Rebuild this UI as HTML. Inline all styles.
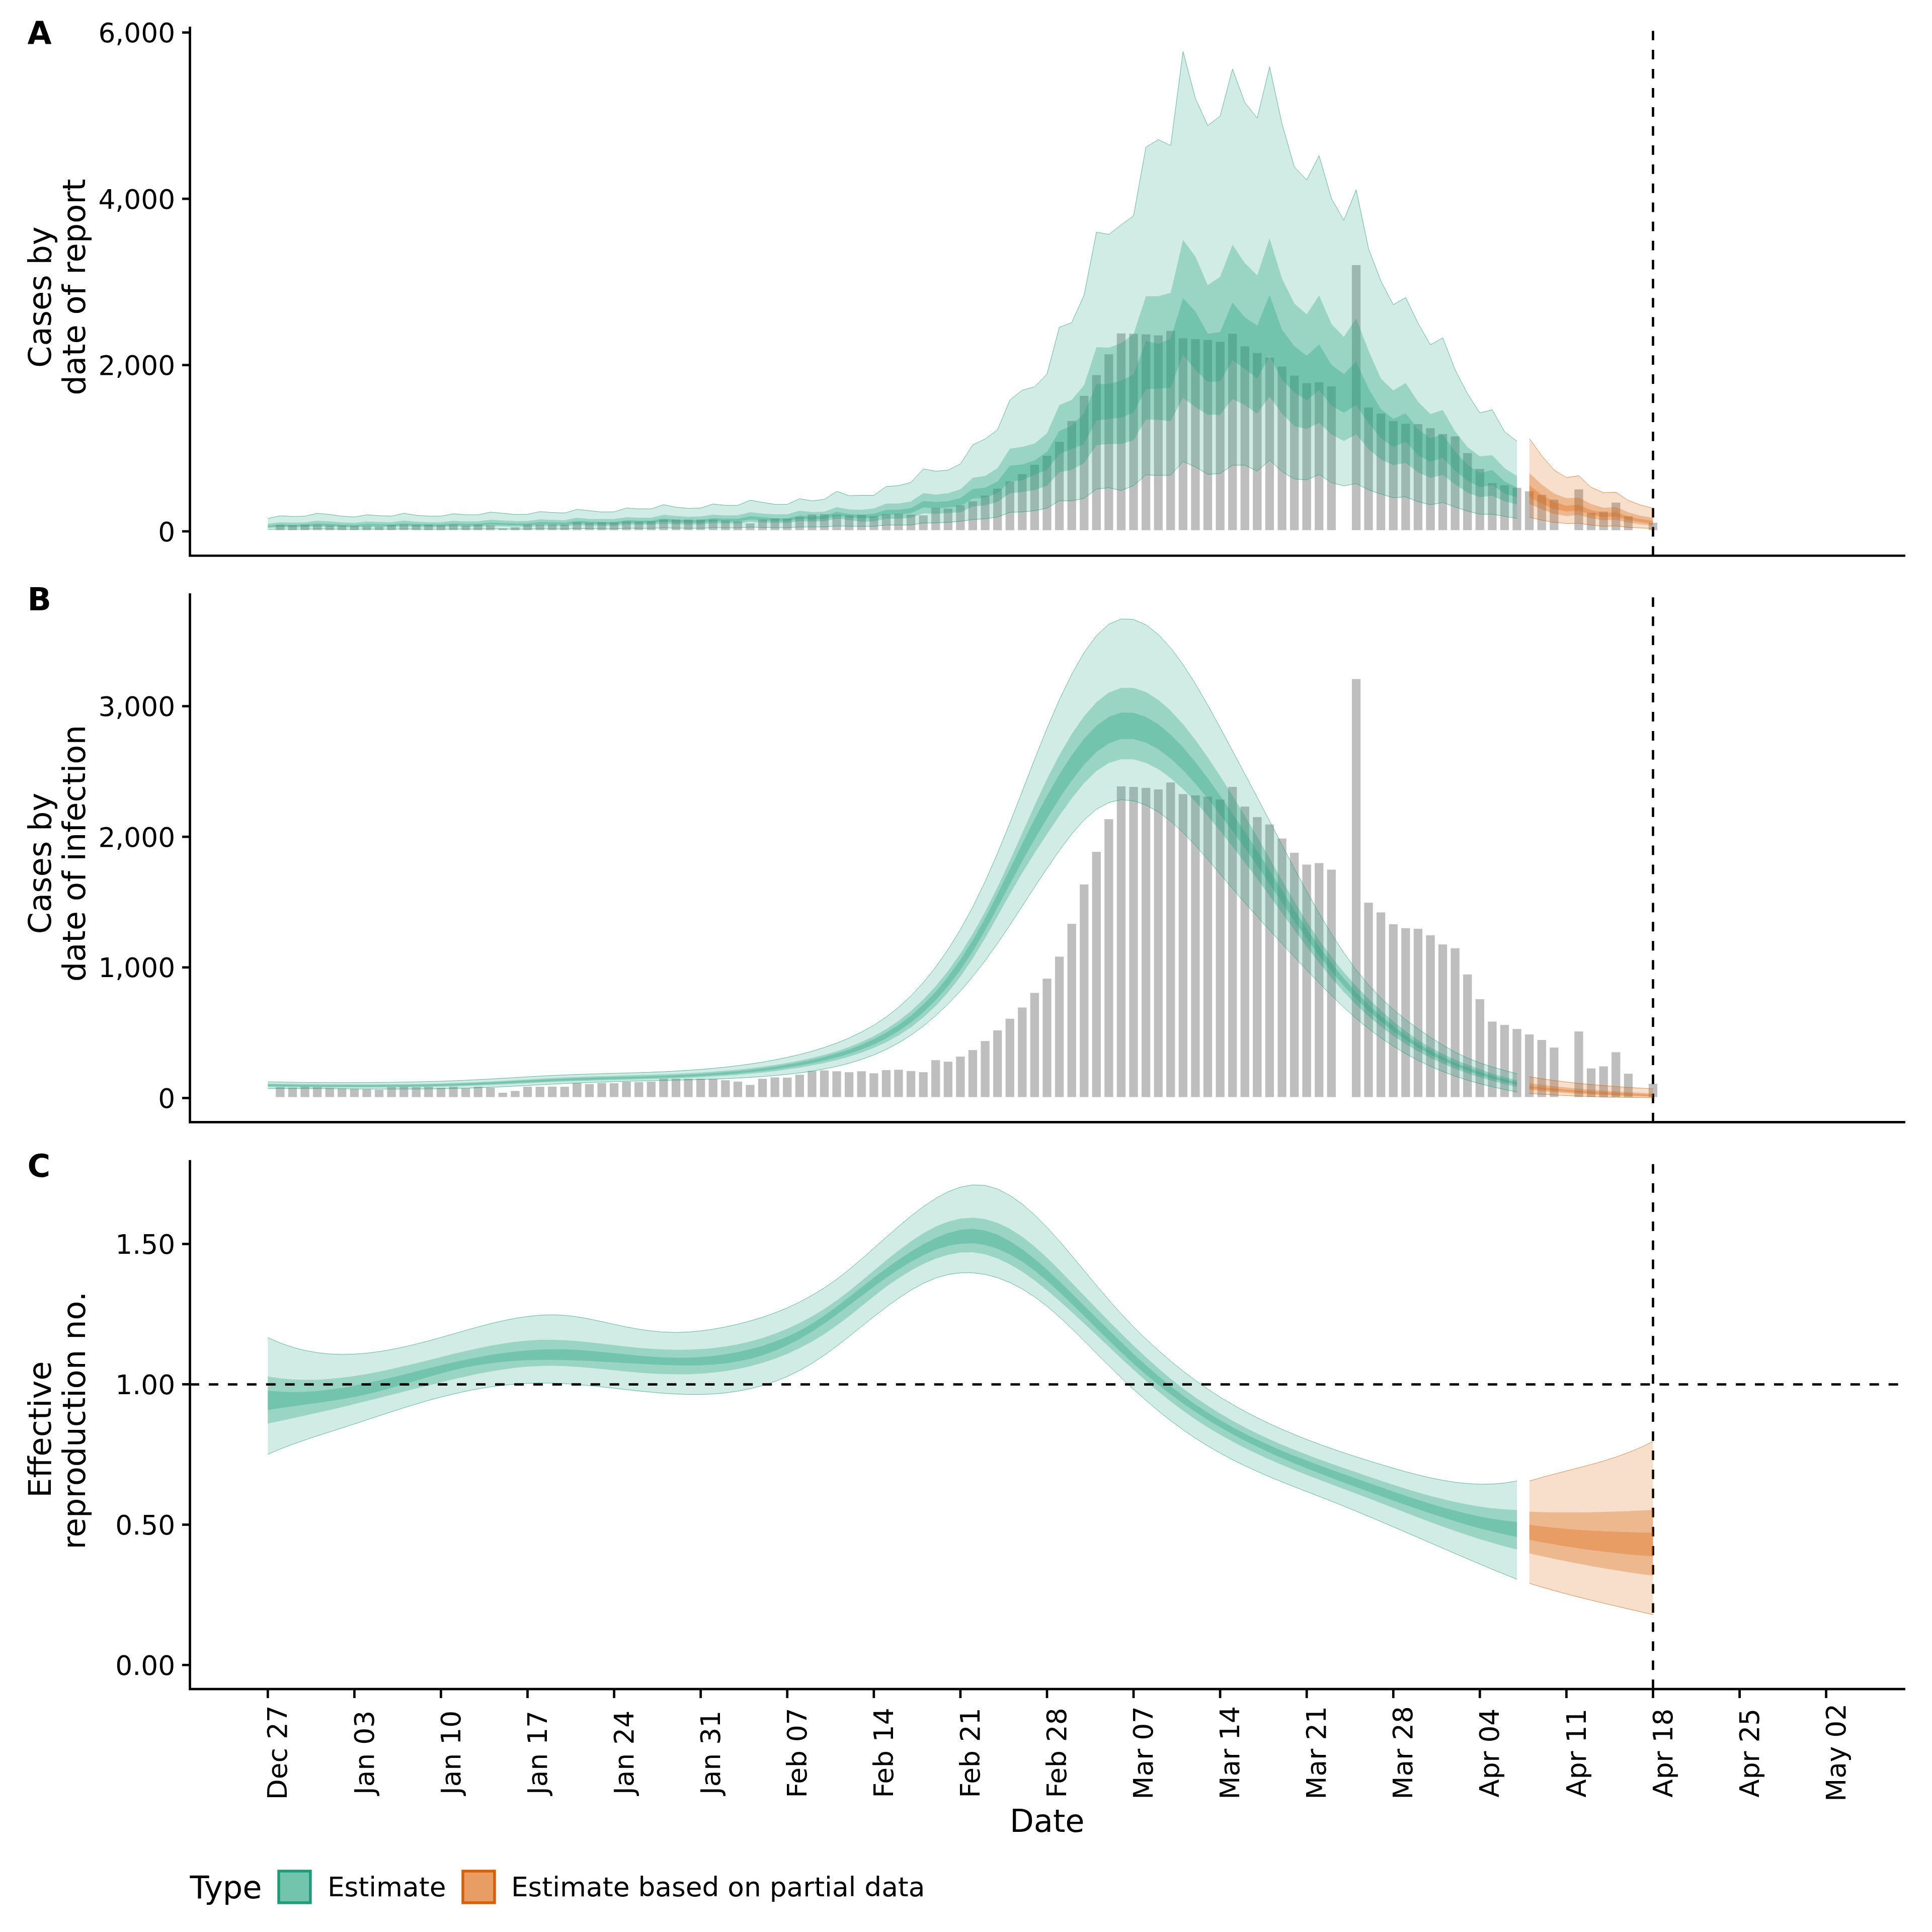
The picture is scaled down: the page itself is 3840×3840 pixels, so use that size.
<!DOCTYPE html>
<html lang="en"><head><meta charset="utf-8"><title>Estimates</title>
<style>html,body{margin:0;padding:0;background:#fff}svg{display:block}</style></head>
<body>
<svg width="3840" height="3840" viewBox="0 0 3840 3840" font-family="'DejaVu Sans', 'Liberation Sans', sans-serif" fill="#000">
<rect width="3840" height="3840" fill="#fff"/>
<defs>
<clipPath id="clipA"><rect x="377.5" y="53" width="3409.5" height="1051.5"/></clipPath>
<clipPath id="clipB"><rect x="377.5" y="1179.2" width="3409.5" height="1051.1"/></clipPath>
<clipPath id="clipC"><rect x="377.5" y="2305.6" width="3409.5" height="1051.6"/></clipPath>
</defs>
<g clip-path="url(#clipA)">
<g fill="#BEBEBE"><rect x="548.2" y="1043.1" width="17.3" height="10.6"/><rect x="572.8" y="1043.8" width="17.3" height="10"/><rect x="597.4" y="1042.7" width="17.3" height="11"/><rect x="622" y="1043.1" width="17.3" height="10.6"/><rect x="646.6" y="1044.2" width="17.3" height="9.6"/><rect x="671.1" y="1044.8" width="17.3" height="8.9"/><rect x="695.7" y="1045.2" width="17.3" height="8.5"/><rect x="720.3" y="1045.7" width="17.3" height="8.1"/><rect x="744.9" y="1046.5" width="17.3" height="7.2"/><rect x="769.5" y="1043.1" width="17.3" height="10.6"/><rect x="794.1" y="1042.7" width="17.3" height="11"/><rect x="818.6" y="1043.1" width="17.3" height="10.6"/><rect x="843.2" y="1042.7" width="17.3" height="11"/><rect x="867.8" y="1044" width="17.3" height="9.8"/><rect x="892.4" y="1042.7" width="17.3" height="11"/><rect x="917" y="1044.6" width="17.3" height="9.1"/><rect x="941.5" y="1042.7" width="17.3" height="11"/><rect x="966.1" y="1044" width="17.3" height="9.8"/><rect x="990.7" y="1050.3" width="17.3" height="3.4"/><rect x="1015.3" y="1048" width="17.3" height="5.8"/><rect x="1039.9" y="1042.7" width="17.3" height="11"/><rect x="1064.5" y="1042.7" width="17.3" height="11"/><rect x="1089" y="1042.5" width="17.3" height="11.2"/><rect x="1113.6" y="1042.7" width="17.3" height="11"/><rect x="1138.2" y="1037.9" width="17.3" height="15.9"/><rect x="1162.8" y="1039.3" width="17.3" height="14.4"/><rect x="1187.4" y="1037.9" width="17.3" height="15.9"/><rect x="1211.9" y="1038.3" width="17.3" height="15.5"/><rect x="1236.5" y="1036.4" width="17.3" height="17.4"/><rect x="1261.1" y="1036.8" width="17.3" height="16.9"/><rect x="1285.7" y="1036.2" width="17.3" height="17.6"/><rect x="1310.3" y="1032.6" width="17.3" height="21.1"/><rect x="1334.9" y="1032.6" width="17.3" height="21.1"/><rect x="1359.4" y="1032.6" width="17.3" height="21.1"/><rect x="1384" y="1032.6" width="17.3" height="21.1"/><rect x="1408.6" y="1032.6" width="17.3" height="21.1"/><rect x="1433.2" y="1034.5" width="17.3" height="19.3"/><rect x="1457.8" y="1036.2" width="17.3" height="17.6"/><rect x="1482.3" y="1040.4" width="17.3" height="13.3"/><rect x="1506.9" y="1032.6" width="17.3" height="21.1"/><rect x="1531.5" y="1030.9" width="17.3" height="22.8"/><rect x="1556.1" y="1031.1" width="17.3" height="22.6"/><rect x="1580.7" y="1027.5" width="17.3" height="26.2"/><rect x="1605.3" y="1022.7" width="17.3" height="31.1"/><rect x="1629.8" y="1022" width="17.3" height="31.7"/><rect x="1654.4" y="1023.1" width="17.3" height="30.6"/><rect x="1679" y="1024.4" width="17.3" height="29.4"/><rect x="1703.6" y="1023.1" width="17.3" height="30.6"/><rect x="1728.2" y="1025.7" width="17.3" height="28"/><rect x="1752.8" y="1021.7" width="17.3" height="32.1"/><rect x="1777.3" y="1021.2" width="17.3" height="32.5"/><rect x="1801.9" y="1022.9" width="17.3" height="30.9"/><rect x="1826.5" y="1024.3" width="17.3" height="29.5"/><rect x="1851.1" y="1009.1" width="17.3" height="44.6"/><rect x="1875.7" y="1011" width="17.3" height="42.7"/><rect x="1900.2" y="1004.6" width="17.3" height="49.1"/><rect x="1924.8" y="996.3" width="17.3" height="57.5"/><rect x="1949.4" y="984.9" width="17.3" height="68.8"/><rect x="1974" y="971.4" width="17.3" height="82.4"/><rect x="1998.6" y="956.7" width="17.3" height="97.1"/><rect x="2023.2" y="942.4" width="17.3" height="111.3"/><rect x="2047.7" y="923.9" width="17.3" height="129.8"/><rect x="2072.3" y="905.9" width="17.3" height="147.9"/><rect x="2096.9" y="878.1" width="17.3" height="175.6"/><rect x="2121.5" y="836.6" width="17.3" height="217.1"/><rect x="2146.1" y="786.8" width="17.3" height="267"/><rect x="2170.6" y="745.5" width="17.3" height="308.2"/><rect x="2195.2" y="704.2" width="17.3" height="349.5"/><rect x="2219.8" y="662.7" width="17.3" height="391.1"/><rect x="2244.4" y="663.4" width="17.3" height="390.3"/><rect x="2269" y="664.6" width="17.3" height="389.2"/><rect x="2293.6" y="666.5" width="17.3" height="387.3"/><rect x="2318.1" y="657.7" width="17.3" height="396"/><rect x="2342.7" y="672.4" width="17.3" height="381.3"/><rect x="2367.3" y="674.1" width="17.3" height="379.7"/><rect x="2391.9" y="675.7" width="17.3" height="378"/><rect x="2416.5" y="679.3" width="17.3" height="374.4"/><rect x="2441" y="663.4" width="17.3" height="390.3"/><rect x="2465.6" y="688.3" width="17.3" height="365.4"/><rect x="2490.2" y="701.6" width="17.3" height="352.1"/><rect x="2514.8" y="710.8" width="17.3" height="342.9"/><rect x="2539.4" y="728.6" width="17.3" height="325.1"/><rect x="2564" y="746.7" width="17.3" height="307.1"/><rect x="2588.5" y="761.6" width="17.3" height="292.1"/><rect x="2613.1" y="759.7" width="17.3" height="294"/><rect x="2637.7" y="768" width="17.3" height="285.7"/><rect x="2686.9" y="526.9" width="17.3" height="526.8"/><rect x="2711.4" y="809.8" width="17.3" height="243.9"/><rect x="2736" y="822.1" width="17.3" height="231.6"/><rect x="2760.6" y="837.1" width="17.3" height="216.7"/><rect x="2785.2" y="842.1" width="17.3" height="211.7"/><rect x="2809.8" y="842.8" width="17.3" height="211"/><rect x="2834.4" y="851.1" width="17.3" height="202.7"/><rect x="2858.9" y="862.7" width="17.3" height="191"/><rect x="2883.5" y="867.4" width="17.3" height="186.3"/><rect x="2908.1" y="900.6" width="17.3" height="153.1"/><rect x="2932.7" y="931.9" width="17.3" height="121.8"/><rect x="2957.3" y="960.2" width="17.3" height="93.5"/><rect x="2981.8" y="964.5" width="17.3" height="89.2"/><rect x="3006.4" y="969.6" width="17.3" height="84.2"/><rect x="3031" y="976.5" width="17.3" height="77.2"/><rect x="3055.6" y="983.5" width="17.3" height="70.3"/><rect x="3080.2" y="993.1" width="17.3" height="60.6"/><rect x="3129.3" y="972.7" width="17.3" height="81"/><rect x="3153.9" y="1019.5" width="17.3" height="34.2"/><rect x="3178.5" y="1016.8" width="17.3" height="36.9"/><rect x="3203.1" y="999" width="17.3" height="54.8"/><rect x="3227.7" y="1026.2" width="17.3" height="27.6"/><rect x="3276.8" y="1039" width="17.3" height="14.7"/></g>
<line x1="3285.5" y1="1104.5" x2="3285.5" y2="53" stroke="#000" stroke-width="4.74" stroke-dasharray="18.97 18.97"/>
<polygon points="532.3,1030.5 556.9,1025.2 581.5,1026.5 606,1025.9 630.6,1020.2 655.2,1022.6 679.8,1025.9 704.4,1027.5 729,1023.2 753.5,1024.9 778.1,1025.9 802.7,1020.2 827.3,1024.2 851.9,1025.9 876.4,1025.9 901,1021.2 925.6,1023.2 950.2,1023.2 974.8,1017.9 999.4,1020.2 1023.9,1022.6 1048.5,1022.2 1073.1,1016.9 1097.7,1018.6 1122.3,1019.7 1146.8,1012.4 1171.4,1015 1196,1017.7 1220.6,1017.3 1245.2,1009.7 1269.8,1011.4 1294.3,1011.4 1318.9,1003.1 1343.5,1008.1 1368.1,1010.4 1392.7,1009.7 1417.3,1001.8 1441.8,1004.4 1466.4,1004.4 1491,994.2 1515.6,998.5 1540.2,1002.4 1564.7,1002.4 1589.3,991.2 1613.9,995.5 1638.5,992.5 1663.1,976.6 1687.7,985.2 1712.2,984.5 1736.8,984.5 1761.4,967 1786,965.3 1810.6,958.7 1835.1,932.2 1859.7,936.5 1884.3,934.5 1908.9,922.2 1933.5,884.1 1958.1,872.5 1982.6,854.3 2007.2,795.4 2031.8,775.5 2056.4,768.9 2081,743.4 2105.5,650.6 2130.1,641.3 2154.7,586.7 2179.3,461.6 2203.9,465.9 2228.5,447 2253,428.8 2277.6,292.7 2302.2,277.4 2326.8,289.4 2351.4,102.5 2375.9,195.3 2400.5,249.6 2425.1,230.7 2449.7,137.3 2474.3,204.2 2498.9,234.7 2523.4,133 2548,245.6 2572.6,331.8 2597.2,357.6 2621.8,309.6 2646.4,394.8 2670.9,437.8 2695.5,377.2 2720.1,494.2 2744.7,558.8 2769.3,605.8 2793.8,591.6 2818.4,642.2 2843,685.3 2867.6,671.4 2892.2,735 2916.8,782.6 2941.3,820.7 2965.9,814.4 2990.5,858.2 3015.1,877.1 3015.1,1030.2 2990.5,1026.3 2965.9,1022.1 2941.3,1022.1 2916.8,1015.8 2892.2,1007.7 2867.6,998.7 2843,1003.2 2818.4,997.2 2793.8,987.3 2769.3,989.4 2744.7,981.9 2720.1,973.6 2695.5,961.3 2670.9,965.6 2646.4,959.3 2621.8,943.1 2597.2,953.7 2572.6,952 2548,937.1 2523.4,914.6 2498.9,936.5 2474.3,924.6 2449.7,924.6 2425.1,941.1 2400.5,942.8 2375.9,927.9 2351.4,917.3 2326.8,944.4 2302.2,944.8 2277.6,943.8 2253,965.3 2228.5,974.9 2203.9,969.3 2179.3,972.3 2154.7,990.5 2130.1,995.4 2105.5,995.4 2081,1010 2056.4,1015 2031.8,1017.5 2007.2,1018.3 1982.6,1027.7 1958.1,1031.1 1933.5,1032.7 1908.9,1036 1884.3,1038.2 1859.7,1039.4 1835.1,1039.4 1810.6,1043.5 1786,1043.5 1761.4,1043.5 1736.8,1046 1712.2,1046.3 1687.7,1046 1663.1,1045.2 1638.5,1047.3 1613.9,1047.3 1589.3,1047.4 1564.7,1048.9 1540.2,1048.9 1515.6,1048.4 1491,1047.8 1466.4,1049.2 1441.8,1049.2 1417.3,1048.9 1392.7,1050 1368.1,1050.1 1343.5,1049.8 1318.9,1049.1 1294.3,1050.2 1269.8,1050.2 1245.2,1050 1220.6,1051 1196,1051.1 1171.4,1050.7 1146.8,1050.4 1122.3,1051.4 1097.7,1051.2 1073.1,1051 1048.5,1051.6 1023.9,1051.7 999.4,1051.3 974.8,1051 950.2,1051.7 925.6,1051.7 901,1051.4 876.4,1052 851.9,1052 827.3,1051.7 802.7,1051.2 778.1,1051.9 753.5,1051.8 729,1051.5 704.4,1052.1 679.8,1051.9 655.2,1051.4 630.6,1051.1 606,1051.8 581.5,1051.9 556.9,1051.7 532.3,1052.4" fill="#1B9E77" fill-opacity="0.2"/><polyline points="532.3,1030.5 556.9,1025.2 581.5,1026.5 606,1025.9 630.6,1020.2 655.2,1022.6 679.8,1025.9 704.4,1027.5 729,1023.2 753.5,1024.9 778.1,1025.9 802.7,1020.2 827.3,1024.2 851.9,1025.9 876.4,1025.9 901,1021.2 925.6,1023.2 950.2,1023.2 974.8,1017.9 999.4,1020.2 1023.9,1022.6 1048.5,1022.2 1073.1,1016.9 1097.7,1018.6 1122.3,1019.7 1146.8,1012.4 1171.4,1015 1196,1017.7 1220.6,1017.3 1245.2,1009.7 1269.8,1011.4 1294.3,1011.4 1318.9,1003.1 1343.5,1008.1 1368.1,1010.4 1392.7,1009.7 1417.3,1001.8 1441.8,1004.4 1466.4,1004.4 1491,994.2 1515.6,998.5 1540.2,1002.4 1564.7,1002.4 1589.3,991.2 1613.9,995.5 1638.5,992.5 1663.1,976.6 1687.7,985.2 1712.2,984.5 1736.8,984.5 1761.4,967 1786,965.3 1810.6,958.7 1835.1,932.2 1859.7,936.5 1884.3,934.5 1908.9,922.2 1933.5,884.1 1958.1,872.5 1982.6,854.3 2007.2,795.4 2031.8,775.5 2056.4,768.9 2081,743.4 2105.5,650.6 2130.1,641.3 2154.7,586.7 2179.3,461.6 2203.9,465.9 2228.5,447 2253,428.8 2277.6,292.7 2302.2,277.4 2326.8,289.4 2351.4,102.5 2375.9,195.3 2400.5,249.6 2425.1,230.7 2449.7,137.3 2474.3,204.2 2498.9,234.7 2523.4,133 2548,245.6 2572.6,331.8 2597.2,357.6 2621.8,309.6 2646.4,394.8 2670.9,437.8 2695.5,377.2 2720.1,494.2 2744.7,558.8 2769.3,605.8 2793.8,591.6 2818.4,642.2 2843,685.3 2867.6,671.4 2892.2,735 2916.8,782.6 2941.3,820.7 2965.9,814.4 2990.5,858.2 3015.1,877.1" fill="none" stroke="#1B9E77" stroke-width="0.7" stroke-linejoin="round"/><polyline points="532.3,1052.4 556.9,1051.7 581.5,1051.9 606,1051.8 630.6,1051.1 655.2,1051.4 679.8,1051.9 704.4,1052.1 729,1051.5 753.5,1051.8 778.1,1051.9 802.7,1051.2 827.3,1051.7 851.9,1052 876.4,1052 901,1051.4 925.6,1051.7 950.2,1051.7 974.8,1051 999.4,1051.3 1023.9,1051.7 1048.5,1051.6 1073.1,1051 1097.7,1051.2 1122.3,1051.4 1146.8,1050.4 1171.4,1050.7 1196,1051.1 1220.6,1051 1245.2,1050 1269.8,1050.2 1294.3,1050.2 1318.9,1049.1 1343.5,1049.8 1368.1,1050.1 1392.7,1050 1417.3,1048.9 1441.8,1049.2 1466.4,1049.2 1491,1047.8 1515.6,1048.4 1540.2,1048.9 1564.7,1048.9 1589.3,1047.4 1613.9,1047.3 1638.5,1047.3 1663.1,1045.2 1687.7,1046 1712.2,1046.3 1736.8,1046 1761.4,1043.5 1786,1043.5 1810.6,1043.5 1835.1,1039.4 1859.7,1039.4 1884.3,1038.2 1908.9,1036 1933.5,1032.7 1958.1,1031.1 1982.6,1027.7 2007.2,1018.3 2031.8,1017.5 2056.4,1015 2081,1010 2105.5,995.4 2130.1,995.4 2154.7,990.5 2179.3,972.3 2203.9,969.3 2228.5,974.9 2253,965.3 2277.6,943.8 2302.2,944.8 2326.8,944.4 2351.4,917.3 2375.9,927.9 2400.5,942.8 2425.1,941.1 2449.7,924.6 2474.3,924.6 2498.9,936.5 2523.4,914.6 2548,937.1 2572.6,952 2597.2,953.7 2621.8,943.1 2646.4,959.3 2670.9,965.6 2695.5,961.3 2720.1,973.6 2744.7,981.9 2769.3,989.4 2793.8,987.3 2818.4,997.2 2843,1003.2 2867.6,998.7 2892.2,1007.7 2916.8,1015.8 2941.3,1022.1 2965.9,1022.1 2990.5,1026.3 3015.1,1030.2" fill="none" stroke="#1B9E77" stroke-width="0.7" stroke-linejoin="round"/>
<polygon points="532.3,1041.1 556.9,1038 581.5,1038.7 606,1038.3 630.6,1035 655.2,1036.3 679.8,1038.2 704.4,1039.2 729,1036.6 753.5,1037.5 778.1,1038.1 802.7,1034.7 827.3,1037.1 851.9,1038 876.4,1038 901,1035.2 925.6,1036.3 950.2,1036.3 974.8,1033.1 999.4,1034.4 1023.9,1035.8 1048.5,1035.5 1073.1,1032.3 1097.7,1033.3 1122.3,1033.9 1146.8,1028.9 1171.4,1031.6 1196,1031.6 1220.6,1031.6 1245.2,1028 1269.8,1028.9 1294.3,1028.9 1318.9,1023.3 1343.5,1025.6 1368.1,1027.3 1392.7,1026.6 1417.3,1023 1441.8,1024.6 1466.4,1024.3 1491,1018 1515.6,1020.7 1540.2,1022.3 1564.7,1022.3 1589.3,1015 1613.9,1017.7 1638.5,1017 1663.1,1008.1 1687.7,1012.4 1712.2,1013.3 1736.8,1010.7 1761.4,1001.1 1786,1000.7 1810.6,996.8 1835.1,980.2 1859.7,982.9 1884.3,980.2 1908.9,972.6 1933.5,949.7 1958.1,946.1 1982.6,930.5 2007.2,891.8 2031.8,888.1 2056.4,881.8 2081,861 2105.5,805.3 2130.1,794.7 2154.7,765.5 2179.3,690 2203.9,691 2228.5,682.1 2253,663.9 2277.6,588.7 2302.2,588.7 2326.8,582 2351.4,476.7 2375.9,509.8 2400.5,566.8 2425.1,550.2 2449.7,486.6 2474.3,523.1 2498.9,547.2 2523.4,473.4 2548,553.5 2572.6,603.2 2597.2,624.8 2621.8,587 2646.4,644 2670.9,669.5 2695.5,633 2720.1,697 2744.7,752.6 2769.3,776 2793.8,761.2 2818.4,798.2 2843,823.1 2867.6,815 2892.2,857.6 2916.8,888.5 2941.3,907.1 2965.9,904.7 2990.5,930.6 3015.1,946.2 3015.1,1002.6 2990.5,996.6 2965.9,985.2 2941.3,988.2 2916.8,979.2 2892.2,962.7 2867.6,944.1 2843,949.8 2818.4,938.7 2793.8,920.1 2769.3,924.6 2744.7,913.3 2720.1,892.4 2695.5,863.3 2670.9,876.5 2646.4,863.6 2621.8,840.4 2597.2,852.7 2572.6,847 2548,821.9 2523.4,788.1 2498.9,821.9 2474.3,805.6 2449.7,793 2425.1,824.5 2400.5,824.5 2375.9,808.9 2351.4,790.7 2326.8,836.8 2302.2,834.5 2277.6,833.8 2253,874.9 2228.5,882.5 2203.9,882.5 2179.3,884.8 2154.7,920.6 2130.1,933.8 2105.5,938.8 2081,965.3 2056.4,974.2 2031.8,977.9 2007.2,980.2 1982.6,997.8 1958.1,1004.4 1933.5,1006.7 1908.9,1018.3 1884.3,1019.6 1859.7,1021.3 1835.1,1020.3 1810.6,1029.2 1786,1030.9 1761.4,1030.9 1736.8,1036.2 1712.2,1036.9 1687.7,1033.4 1663.1,1030.8 1638.5,1036 1613.9,1037 1589.3,1035.8 1564.7,1039.4 1540.2,1039.5 1515.6,1038.4 1491,1037.1 1466.4,1040.4 1441.8,1040.5 1417.3,1039.8 1392.7,1042.2 1368.1,1042.5 1343.5,1041.9 1318.9,1040.5 1294.3,1043 1269.8,1043.1 1245.2,1042.7 1220.6,1045 1196,1045.1 1171.4,1044.5 1146.8,1043.8 1122.3,1045.9 1097.7,1045.6 1073.1,1045.2 1048.5,1046.7 1023.9,1046.8 999.4,1046.2 974.8,1045.6 950.2,1047.1 925.6,1047.1 901,1046.6 876.4,1047.9 851.9,1047.9 827.3,1047.5 802.7,1046.4 778.1,1048 753.5,1047.8 729,1047.3 704.4,1048.5 679.8,1048.1 655.2,1047.2 630.6,1046.7 606,1048.2 581.5,1048.4 556.9,1048 532.3,1049.4" fill="#1B9E77" fill-opacity="0.3"/>
<polygon points="532.3,1045 556.9,1042.6 581.5,1043.2 606,1042.8 630.6,1040.3 655.2,1041.3 679.8,1042.7 704.4,1043.4 729,1041.4 753.5,1042.1 778.1,1042.5 802.7,1039.9 827.3,1041.6 851.9,1042.3 876.4,1042.3 901,1040.1 925.6,1040.9 950.2,1040.9 974.8,1038.4 999.4,1039.4 1023.9,1040.4 1048.5,1040.2 1073.1,1037.6 1097.7,1038.3 1122.3,1038.8 1146.8,1035.3 1171.4,1036.5 1196,1037.8 1220.6,1037.6 1245.2,1033.9 1269.8,1034.7 1294.3,1034.7 1318.9,1030.7 1343.5,1033 1368.1,1034.1 1392.7,1033.7 1417.3,1029.9 1441.8,1031.1 1466.4,1031.1 1491,1026.1 1515.6,1028.1 1540.2,1030 1564.7,1030 1589.3,1024.5 1613.9,1026.5 1638.5,1025 1663.1,1017.2 1687.7,1021.4 1712.2,1023.3 1736.8,1021 1761.4,1013.3 1786,1013.3 1810.6,1010 1835.1,995.8 1859.7,997.8 1884.3,996.1 1908.9,990.1 1933.5,971.9 1958.1,969.6 1982.6,957 2007.2,925.5 2031.8,923.2 2056.4,914.9 2081,898.1 2105.5,856.6 2130.1,846 2154.7,821.2 2179.3,763.2 2203.9,763.2 2228.5,756.6 2253,744.3 2277.6,677.4 2302.2,683.4 2326.8,673.1 2351.4,592.6 2375.9,619.1 2400.5,662.9 2425.1,659.9 2449.7,601.2 2474.3,630.7 2498.9,647.3 2523.4,586 2548,654.9 2572.6,688 2597.2,706.9 2621.8,684.4 2646.4,725.1 2670.9,743.4 2695.5,718.5 2720.1,772.2 2744.7,812.9 2769.3,832.4 2793.8,821.6 2818.4,853.1 2843,871.1 2867.6,863.6 2892.2,897.5 2916.8,923.7 2941.3,940.2 2965.9,934.2 2990.5,956.7 3015.1,968.7 3015.1,988.8 2990.5,980.7 2965.9,964.2 2941.3,968.1 2916.8,955.2 2892.2,935.7 2867.6,910.1 2843,917.7 2818.4,904.7 2793.8,877.7 2769.3,888.5 2744.7,870.9 2720.1,841.1 2695.5,805.3 2670.9,820.2 2646.4,806.3 2621.8,775.5 2597.2,795.7 2572.6,779.8 2548,754.9 2523.4,707.9 2498.9,752.3 2474.3,733.4 2449.7,715.9 2425.1,758.3 2400.5,759.3 2375.9,735.1 2351.4,705.3 2326.8,770.5 2302.2,772.5 2277.6,773.2 2253,820.2 2228.5,830.1 2203.9,832.8 2179.3,836.1 2154.7,882.5 2130.1,892.4 2105.5,902.4 2081,933.8 2056.4,943.8 2031.8,954.4 2007.2,957 1982.6,980.2 1958.1,989.2 1933.5,991.1 1908.9,1006 1884.3,1008.7 1859.7,1010 1835.1,1008.7 1810.6,1020 1786,1022.6 1761.4,1022.6 1736.8,1029.2 1712.2,1030.2 1687.7,1028.5 1663.1,1025.2 1638.5,1031.5 1613.9,1032.7 1589.3,1031.1 1564.7,1035.5 1540.2,1035.6 1515.6,1034.1 1491,1032.6 1466.4,1036.6 1441.8,1036.6 1417.3,1035.7 1392.7,1038.7 1368.1,1039 1343.5,1038.2 1318.9,1036.5 1294.3,1039.6 1269.8,1039.7 1245.2,1039.1 1220.6,1041.9 1196,1042.1 1171.4,1041.2 1146.8,1040.3 1122.3,1043 1097.7,1042.6 1073.1,1042.1 1048.5,1044 1023.9,1044.2 999.4,1043.4 974.8,1042.6 950.2,1044.6 925.6,1044.6 901,1043.9 876.4,1045.6 851.9,1045.6 827.3,1045.1 802.7,1043.8 778.1,1045.7 753.5,1045.4 729,1044.9 704.4,1046.4 679.8,1045.9 655.2,1044.8 630.6,1044.1 606,1046 581.5,1046.3 556.9,1045.9 532.3,1047.7" fill="#1B9E77" fill-opacity="0.3"/>
<polygon points="3039.7,871.7 3064.2,905.6 3088.8,934.2 3113.4,949.2 3138,945.6 3162.6,968.7 3187.2,979.2 3211.7,978.3 3236.3,994.8 3260.9,1003.8 3285.5,1010.1 3285.5,1050.6 3260.9,1049.4 3236.3,1048.2 3211.7,1045.2 3187.2,1046.1 3162.6,1043.7 3138,1040.1 3113.4,1040.4 3088.8,1038.3 3064.2,1033.8 3039.7,1028.1" fill="#D95F02" fill-opacity="0.2"/><polyline points="3039.7,871.7 3064.2,905.6 3088.8,934.2 3113.4,949.2 3138,945.6 3162.6,968.7 3187.2,979.2 3211.7,978.3 3236.3,994.8 3260.9,1003.8 3285.5,1010.1" fill="none" stroke="#D95F02" stroke-width="0.7" stroke-linejoin="round"/><polyline points="3039.7,1028.1 3064.2,1033.8 3088.8,1038.3 3113.4,1040.4 3138,1040.1 3162.6,1043.7 3187.2,1046.1 3211.7,1045.2 3236.3,1048.2 3260.9,1049.4 3285.5,1050.6" fill="none" stroke="#D95F02" stroke-width="0.7" stroke-linejoin="round"/>
<polygon points="3039.7,940.2 3064.2,962.7 3088.8,980.7 3113.4,990.3 3138,989.1 3162.6,1001.7 3187.2,1009.2 3211.7,1007.7 3236.3,1018.2 3260.9,1025.1 3285.5,1029.6 3285.5,1044.6 3260.9,1042.2 3236.3,1038.6 3211.7,1033.2 3187.2,1034.1 3162.6,1030.2 3138,1023.6 3113.4,1025.7 3088.8,1021.2 3064.2,1012.2 3039.7,1001.7" fill="#D95F02" fill-opacity="0.3"/>
<polygon points="3039.7,964.2 3064.2,983.7 3088.8,997.2 3113.4,1005.3 3138,1003.2 3162.6,1013.7 3187.2,1019.7 3211.7,1018.2 3236.3,1026.6 3260.9,1031.7 3285.5,1035.3 3285.5,1040.7 3260.9,1037.7 3236.3,1033.2 3211.7,1026.6 3187.2,1027.8 3162.6,1022.7 3138,1014.6 3113.4,1016.7 3088.8,1011.6 3064.2,1000.8 3039.7,988.2" fill="#D95F02" fill-opacity="0.3"/>
</g>
<path d="M377.5 55.4 V1104.5 H3784.6" fill="none" stroke="#000" stroke-width="4.74" stroke-linecap="square" stroke-linejoin="miter"/>
<line x1="362" y1="1056.1" x2="377.5" y2="1056.1" stroke="#000" stroke-width="4.74"/>
<text x="348.1" y="1075.7" text-anchor="end" font-size="53.33">0</text>
<line x1="362" y1="725.6" x2="377.5" y2="725.6" stroke="#000" stroke-width="4.74"/>
<text x="348.1" y="745.2" text-anchor="end" font-size="53.33">2,000</text>
<line x1="362" y1="395.1" x2="377.5" y2="395.1" stroke="#000" stroke-width="4.74"/>
<text x="348.1" y="414.7" text-anchor="end" font-size="53.33">4,000</text>
<line x1="362" y1="64.6" x2="377.5" y2="64.6" stroke="#000" stroke-width="4.74"/>
<text x="348.1" y="84.2" text-anchor="end" font-size="53.33">6,000</text>
<g clip-path="url(#clipB)">
<g fill="#BEBEBE"><rect x="548.2" y="2160.7" width="17.3" height="19.9"/><rect x="572.8" y="2161.7" width="17.3" height="18.9"/><rect x="597.4" y="2160" width="17.3" height="20.6"/><rect x="622" y="2160.7" width="17.3" height="19.9"/><rect x="646.6" y="2162.3" width="17.3" height="18.2"/><rect x="671.1" y="2163.3" width="17.3" height="17.2"/><rect x="695.7" y="2164" width="17.3" height="16.6"/><rect x="720.3" y="2164.6" width="17.3" height="15.9"/><rect x="744.9" y="2166" width="17.3" height="14.6"/><rect x="769.5" y="2160.7" width="17.3" height="19.9"/><rect x="794.1" y="2160" width="17.3" height="20.6"/><rect x="818.6" y="2160.7" width="17.3" height="19.9"/><rect x="843.2" y="2160" width="17.3" height="20.6"/><rect x="867.8" y="2162" width="17.3" height="18.6"/><rect x="892.4" y="2160" width="17.3" height="20.6"/><rect x="917" y="2163" width="17.3" height="17.6"/><rect x="941.5" y="2160" width="17.3" height="20.6"/><rect x="966.1" y="2162" width="17.3" height="18.6"/><rect x="990.7" y="2171.9" width="17.3" height="8.6"/><rect x="1015.3" y="2168.3" width="17.3" height="12.3"/><rect x="1039.9" y="2160" width="17.3" height="20.6"/><rect x="1064.5" y="2160" width="17.3" height="20.6"/><rect x="1089" y="2159.7" width="17.3" height="20.9"/><rect x="1113.6" y="2160" width="17.3" height="20.6"/><rect x="1138.2" y="2152.4" width="17.3" height="28.2"/><rect x="1162.8" y="2154.7" width="17.3" height="25.9"/><rect x="1187.4" y="2152.4" width="17.3" height="28.2"/><rect x="1211.9" y="2153" width="17.3" height="27.5"/><rect x="1236.5" y="2150.1" width="17.3" height="30.5"/><rect x="1261.1" y="2150.7" width="17.3" height="29.8"/><rect x="1285.7" y="2149.7" width="17.3" height="30.8"/><rect x="1310.3" y="2144.1" width="17.3" height="36.5"/><rect x="1334.9" y="2144.1" width="17.3" height="36.5"/><rect x="1359.4" y="2144.1" width="17.3" height="36.5"/><rect x="1384" y="2144.1" width="17.3" height="36.5"/><rect x="1408.6" y="2144.1" width="17.3" height="36.5"/><rect x="1433.2" y="2147.1" width="17.3" height="33.5"/><rect x="1457.8" y="2149.7" width="17.3" height="30.8"/><rect x="1482.3" y="2156.4" width="17.3" height="24.2"/><rect x="1506.9" y="2144.1" width="17.3" height="36.5"/><rect x="1531.5" y="2141.4" width="17.3" height="39.1"/><rect x="1556.1" y="2141.8" width="17.3" height="38.8"/><rect x="1580.7" y="2136.1" width="17.3" height="44.4"/><rect x="1605.3" y="2128.5" width="17.3" height="52"/><rect x="1629.8" y="2127.5" width="17.3" height="53"/><rect x="1654.4" y="2129.2" width="17.3" height="51.4"/><rect x="1679" y="2131.2" width="17.3" height="49.4"/><rect x="1703.6" y="2129.2" width="17.3" height="51.4"/><rect x="1728.2" y="2133.3" width="17.3" height="47.3"/><rect x="1752.8" y="2127" width="17.3" height="53.6"/><rect x="1777.3" y="2126.2" width="17.3" height="54.3"/><rect x="1801.9" y="2128.8" width="17.3" height="51.7"/><rect x="1826.5" y="2131.1" width="17.3" height="49.5"/><rect x="1851.1" y="2107.2" width="17.3" height="73.4"/><rect x="1875.7" y="2110.2" width="17.3" height="70.4"/><rect x="1900.2" y="2100.1" width="17.3" height="80.4"/><rect x="1924.8" y="2087.1" width="17.3" height="93.5"/><rect x="1949.4" y="2069.2" width="17.3" height="111.4"/><rect x="1974" y="2047.9" width="17.3" height="132.6"/><rect x="1998.6" y="2024.8" width="17.3" height="155.7"/><rect x="2023.2" y="2002.5" width="17.3" height="178.1"/><rect x="2047.7" y="1973.4" width="17.3" height="207.2"/><rect x="2072.3" y="1945.1" width="17.3" height="235.5"/><rect x="2096.9" y="1901.4" width="17.3" height="279.1"/><rect x="2121.5" y="1836.2" width="17.3" height="344.3"/><rect x="2146.1" y="1757.9" width="17.3" height="422.6"/><rect x="2170.6" y="1693.1" width="17.3" height="487.5"/><rect x="2195.2" y="1628.2" width="17.3" height="552.3"/><rect x="2219.8" y="1563" width="17.3" height="617.6"/><rect x="2244.4" y="1564.1" width="17.3" height="616.4"/><rect x="2269" y="1566" width="17.3" height="614.6"/><rect x="2293.6" y="1569" width="17.3" height="611.6"/><rect x="2318.1" y="1555.2" width="17.3" height="625.4"/><rect x="2342.7" y="1578.3" width="17.3" height="602.3"/><rect x="2367.3" y="1580.9" width="17.3" height="599.7"/><rect x="2391.9" y="1583.5" width="17.3" height="597.1"/><rect x="2416.5" y="1589.1" width="17.3" height="591.5"/><rect x="2441" y="1564.1" width="17.3" height="616.4"/><rect x="2465.6" y="1603.2" width="17.3" height="577.3"/><rect x="2490.2" y="1624.1" width="17.3" height="556.4"/><rect x="2514.8" y="1638.7" width="17.3" height="541.9"/><rect x="2539.4" y="1666.6" width="17.3" height="513.9"/><rect x="2564" y="1694.9" width="17.3" height="485.6"/><rect x="2588.5" y="1718.4" width="17.3" height="462.1"/><rect x="2613.1" y="1715.4" width="17.3" height="465.1"/><rect x="2637.7" y="1728.5" width="17.3" height="452.1"/><rect x="2686.9" y="1349.7" width="17.3" height="830.9"/><rect x="2711.4" y="1794.1" width="17.3" height="386.5"/><rect x="2736" y="1813.5" width="17.3" height="367.1"/><rect x="2760.6" y="1837" width="17.3" height="343.6"/><rect x="2785.2" y="1844.8" width="17.3" height="335.8"/><rect x="2809.8" y="1845.9" width="17.3" height="334.6"/><rect x="2834.4" y="1859" width="17.3" height="321.6"/><rect x="2858.9" y="1877.2" width="17.3" height="303.3"/><rect x="2883.5" y="1884.7" width="17.3" height="295.9"/><rect x="2908.1" y="1936.8" width="17.3" height="243.8"/><rect x="2932.7" y="1986" width="17.3" height="194.6"/><rect x="2957.3" y="2030.4" width="17.3" height="150.1"/><rect x="2981.8" y="2037.1" width="17.3" height="143.4"/><rect x="3006.4" y="2045.1" width="17.3" height="135.5"/><rect x="3031" y="2056" width="17.3" height="124.5"/><rect x="3055.6" y="2067" width="17.3" height="113.6"/><rect x="3080.2" y="2082.1" width="17.3" height="98.4"/><rect x="3129.3" y="2050.1" width="17.3" height="130.5"/><rect x="3153.9" y="2123.6" width="17.3" height="56.9"/><rect x="3178.5" y="2119.4" width="17.3" height="61.2"/><rect x="3203.1" y="2091.3" width="17.3" height="89.2"/><rect x="3227.7" y="2134" width="17.3" height="46.5"/><rect x="3276.8" y="2154.2" width="17.3" height="26.4"/></g>
<line x1="3285.5" y1="2230.7" x2="3285.5" y2="1179.2" stroke="#000" stroke-width="4.74" stroke-dasharray="18.97 18.97"/>
<polygon points="532.3,2150.2 556.9,2150.7 581.5,2151.1 606,2151.4 630.6,2151.6 655.2,2151.7 679.8,2151.8 704.4,2151.8 729,2151.7 753.5,2151.5 778.1,2151.2 802.7,2150.8 827.3,2150.3 851.9,2149.7 876.4,2149 901,2148.1 925.6,2147.1 950.2,2145.9 974.8,2144.6 999.4,2143.2 1023.9,2141.8 1048.5,2140.3 1073.1,2138.9 1097.7,2137.6 1122.3,2136.5 1146.8,2135.6 1171.4,2134.8 1196,2134 1220.6,2133.3 1245.2,2132.7 1269.8,2131.9 1294.3,2131.1 1318.9,2130.1 1343.5,2128.8 1368.1,2127.3 1392.7,2125.6 1417.3,2123.4 1441.8,2121 1466.4,2118.1 1491,2114.8 1515.6,2111 1540.2,2106.6 1564.7,2101.6 1589.3,2095.9 1613.9,2089.3 1638.5,2081.8 1663.1,2073.1 1687.7,2063.1 1712.2,2051.3 1736.8,2037.5 1761.4,2021.3 1786,2002 1810.6,1979.3 1835.1,1952.8 1859.7,1922.2 1884.3,1887.2 1908.9,1847.5 1933.5,1802.6 1958.1,1751.9 1982.6,1696 2007.2,1635.9 2031.8,1572.7 2056.4,1509.1 2081,1447.7 2105.5,1391 2130.1,1340.2 2154.7,1297 2179.3,1263.3 2203.9,1240.6 2228.5,1230.2 2253,1231.1 2277.6,1241.9 2302.2,1261.1 2326.8,1287.8 2351.4,1320.9 2375.9,1359.2 2400.5,1401.5 2425.1,1446.3 2449.7,1492.3 2474.3,1538.4 2498.9,1584.9 2523.4,1632 2548,1679.3 2572.6,1726.1 2597.2,1771.5 2621.8,1815 2646.4,1856 2670.9,1893.8 2695.5,1927.7 2720.1,1957.6 2744.7,1983.7 2769.3,2006.4 2793.8,2026.5 2818.4,2044.7 2843,2061.5 2867.6,2077.1 2892.2,2091 2916.8,2102.9 2941.3,2112.7 2965.9,2120.6 2990.5,2127.5 3015.1,2134.3 3015.1,2170.5 2990.5,2165.5 2965.9,2160 2941.3,2154 2916.8,2147 2892.2,2139 2867.6,2129.8 2843,2119.3 2818.4,2107.5 2793.8,2094.3 2769.3,2079.4 2744.7,2062.9 2720.1,2044.6 2695.5,2024.4 2670.9,2002.3 2646.4,1978.5 2621.8,1953.6 2597.2,1928 2572.6,1902 2548,1875.6 2523.4,1848.9 2498.9,1822 2474.3,1794.5 2449.7,1766.3 2425.1,1737.2 2400.5,1708.1 2375.9,1680.2 2351.4,1654.6 2326.8,1632.2 2302.2,1613.8 2277.6,1600.1 2253,1591.7 2228.5,1589.5 2203.9,1594.9 2179.3,1608.4 2154.7,1629.8 2130.1,1657.8 2105.5,1690.4 2081,1725.9 2056.4,1763 2031.8,1801 2007.2,1838.8 1982.6,1875.1 1958.1,1909.4 1933.5,1941 1908.9,1969.7 1884.3,1995.6 1859.7,2018.9 1835.1,2039.5 1810.6,2057.5 1786,2072.9 1761.4,2085.9 1736.8,2096.8 1712.2,2105.8 1687.7,2113.3 1663.1,2119.6 1638.5,2124.7 1613.9,2129 1589.3,2132.5 1564.7,2135.3 1540.2,2137.7 1515.6,2139.7 1491,2141.4 1466.4,2142.7 1441.8,2143.9 1417.3,2144.8 1392.7,2145.6 1368.1,2146.3 1343.5,2146.9 1318.9,2147.4 1294.3,2147.9 1269.8,2148.4 1245.2,2149.1 1220.6,2149.8 1196,2150.6 1171.4,2151.5 1146.8,2152.5 1122.3,2153.6 1097.7,2154.8 1073.1,2156.1 1048.5,2157.5 1023.9,2158.7 999.4,2160 974.8,2161.1 950.2,2162 925.6,2162.8 901,2163.4 876.4,2163.9 851.9,2164.2 827.3,2164.4 802.7,2164.5 778.1,2164.5 753.5,2164.5 729,2164.3 704.4,2164.2 679.8,2164 655.2,2163.9 630.6,2163.7 606,2163.6 581.5,2163.6 556.9,2163.6 532.3,2163.6" fill="#1B9E77" fill-opacity="0.2"/><polyline points="532.3,2150.2 556.9,2150.7 581.5,2151.1 606,2151.4 630.6,2151.6 655.2,2151.7 679.8,2151.8 704.4,2151.8 729,2151.7 753.5,2151.5 778.1,2151.2 802.7,2150.8 827.3,2150.3 851.9,2149.7 876.4,2149 901,2148.1 925.6,2147.1 950.2,2145.9 974.8,2144.6 999.4,2143.2 1023.9,2141.8 1048.5,2140.3 1073.1,2138.9 1097.7,2137.6 1122.3,2136.5 1146.8,2135.6 1171.4,2134.8 1196,2134 1220.6,2133.3 1245.2,2132.7 1269.8,2131.9 1294.3,2131.1 1318.9,2130.1 1343.5,2128.8 1368.1,2127.3 1392.7,2125.6 1417.3,2123.4 1441.8,2121 1466.4,2118.1 1491,2114.8 1515.6,2111 1540.2,2106.6 1564.7,2101.6 1589.3,2095.9 1613.9,2089.3 1638.5,2081.8 1663.1,2073.1 1687.7,2063.1 1712.2,2051.3 1736.8,2037.5 1761.4,2021.3 1786,2002 1810.6,1979.3 1835.1,1952.8 1859.7,1922.2 1884.3,1887.2 1908.9,1847.5 1933.5,1802.6 1958.1,1751.9 1982.6,1696 2007.2,1635.9 2031.8,1572.7 2056.4,1509.1 2081,1447.7 2105.5,1391 2130.1,1340.2 2154.7,1297 2179.3,1263.3 2203.9,1240.6 2228.5,1230.2 2253,1231.1 2277.6,1241.9 2302.2,1261.1 2326.8,1287.8 2351.4,1320.9 2375.9,1359.2 2400.5,1401.5 2425.1,1446.3 2449.7,1492.3 2474.3,1538.4 2498.9,1584.9 2523.4,1632 2548,1679.3 2572.6,1726.1 2597.2,1771.5 2621.8,1815 2646.4,1856 2670.9,1893.8 2695.5,1927.7 2720.1,1957.6 2744.7,1983.7 2769.3,2006.4 2793.8,2026.5 2818.4,2044.7 2843,2061.5 2867.6,2077.1 2892.2,2091 2916.8,2102.9 2941.3,2112.7 2965.9,2120.6 2990.5,2127.5 3015.1,2134.3" fill="none" stroke="#1B9E77" stroke-width="0.7" stroke-linejoin="round"/><polyline points="532.3,2163.6 556.9,2163.6 581.5,2163.6 606,2163.6 630.6,2163.7 655.2,2163.9 679.8,2164 704.4,2164.2 729,2164.3 753.5,2164.5 778.1,2164.5 802.7,2164.5 827.3,2164.4 851.9,2164.2 876.4,2163.9 901,2163.4 925.6,2162.8 950.2,2162 974.8,2161.1 999.4,2160 1023.9,2158.7 1048.5,2157.5 1073.1,2156.1 1097.7,2154.8 1122.3,2153.6 1146.8,2152.5 1171.4,2151.5 1196,2150.6 1220.6,2149.8 1245.2,2149.1 1269.8,2148.4 1294.3,2147.9 1318.9,2147.4 1343.5,2146.9 1368.1,2146.3 1392.7,2145.6 1417.3,2144.8 1441.8,2143.9 1466.4,2142.7 1491,2141.4 1515.6,2139.7 1540.2,2137.7 1564.7,2135.3 1589.3,2132.5 1613.9,2129 1638.5,2124.7 1663.1,2119.6 1687.7,2113.3 1712.2,2105.8 1736.8,2096.8 1761.4,2085.9 1786,2072.9 1810.6,2057.5 1835.1,2039.5 1859.7,2018.9 1884.3,1995.6 1908.9,1969.7 1933.5,1941 1958.1,1909.4 1982.6,1875.1 2007.2,1838.8 2031.8,1801 2056.4,1763 2081,1725.9 2105.5,1690.4 2130.1,1657.8 2154.7,1629.8 2179.3,1608.4 2203.9,1594.9 2228.5,1589.5 2253,1591.7 2277.6,1600.1 2302.2,1613.8 2326.8,1632.2 2351.4,1654.6 2375.9,1680.2 2400.5,1708.1 2425.1,1737.2 2449.7,1766.3 2474.3,1794.5 2498.9,1822 2523.4,1848.9 2548,1875.6 2572.6,1902 2597.2,1928 2621.8,1953.6 2646.4,1978.5 2670.9,2002.3 2695.5,2024.4 2720.1,2044.6 2744.7,2062.9 2769.3,2079.4 2793.8,2094.3 2818.4,2107.5 2843,2119.3 2867.6,2129.8 2892.2,2139 2916.8,2147 2941.3,2154 2965.9,2160 2990.5,2165.5 3015.1,2170.5" fill="none" stroke="#1B9E77" stroke-width="0.7" stroke-linejoin="round"/>
<polygon points="532.3,2153.6 556.9,2153.9 581.5,2154.2 606,2154.5 630.6,2154.8 655.2,2155 679.8,2155.1 704.4,2155.2 729,2155.2 753.5,2155.1 778.1,2155 802.7,2154.7 827.3,2154.4 851.9,2153.9 876.4,2153.4 901,2152.6 925.6,2151.7 950.2,2150.7 974.8,2149.5 999.4,2148.2 1023.9,2146.8 1048.5,2145.4 1073.1,2144 1097.7,2142.7 1122.3,2141.5 1146.8,2140.5 1171.4,2139.7 1196,2138.9 1220.6,2138.2 1245.2,2137.5 1269.8,2136.8 1294.3,2136.1 1318.9,2135.2 1343.5,2134.3 1368.1,2133.1 1392.7,2131.7 1417.3,2130 1441.8,2128.1 1466.4,2125.9 1491,2123.3 1515.6,2120.3 1540.2,2116.8 1564.7,2112.8 1589.3,2108.1 1613.9,2102.8 1638.5,2096.6 1663.1,2089.4 1687.7,2081 1712.2,2071.1 1736.8,2059.4 1761.4,2045.5 1786,2029 1810.6,2009.5 1835.1,1986.6 1859.7,1960.2 1884.3,1929.8 1908.9,1895.3 1933.5,1856.1 1958.1,1812 1982.6,1763.2 2007.2,1710.8 2031.8,1655.8 2056.4,1600.7 2081,1548.2 2105.5,1500.8 2130.1,1458.9 2154.7,1423.6 2179.3,1395.7 2203.9,1376.5 2228.5,1367.2 2253,1367.3 2277.6,1375.6 2302.2,1391 2326.8,1412.5 2351.4,1439.4 2375.9,1470.6 2400.5,1505.3 2425.1,1542.5 2449.7,1581.3 2474.3,1621.4 2498.9,1662.9 2523.4,1706 2548,1749.5 2572.6,1791.8 2597.2,1831.7 2621.8,1868.5 2646.4,1901.9 2670.9,1932.3 2695.5,1959.9 2720.1,1985.2 2744.7,2008.6 2769.3,2030.1 2793.8,2049.6 2818.4,2066.9 2843,2081.8 2867.6,2094.7 2892.2,2105.9 2916.8,2116 2941.3,2125.3 2965.9,2133.7 2990.5,2141.1 3015.1,2147.2 3015.1,2160.5 2990.5,2154.7 2965.9,2148.3 2941.3,2141.2 2916.8,2133.2 2892.2,2124.2 2867.6,2114.1 2843,2102.6 2818.4,2089.7 2793.8,2075.1 2769.3,2058.8 2744.7,2040.4 2720.1,2019.9 2695.5,1997 2670.9,1971.5 2646.4,1943.6 2621.8,1913.6 2597.2,1881.8 2572.6,1848.6 2548,1814.6 2523.4,1780.5 2498.9,1747 2474.3,1714.5 2449.7,1682.8 2425.1,1651.7 2400.5,1621.7 2375.9,1593.6 2351.4,1568.2 2326.8,1546.4 2302.2,1528.8 2277.6,1516.2 2253,1509.2 2228.5,1508.9 2203.9,1516.4 2179.3,1532.5 2154.7,1556.4 2130.1,1586.9 2105.5,1621.5 2081,1658 2056.4,1695.5 2031.8,1735.1 2007.2,1777.4 1982.6,1821.3 1958.1,1864.7 1933.5,1905.1 1908.9,1941.2 1884.3,1972.5 1859.7,1999.5 1835.1,2022.3 1810.6,2041.7 1786,2058 1761.4,2071.5 1736.8,2082.8 1712.2,2092.3 1687.7,2100.2 1663.1,2106.9 1638.5,2112.7 1613.9,2117.6 1589.3,2121.9 1564.7,2125.6 1540.2,2128.9 1515.6,2131.7 1491,2134.1 1466.4,2136.2 1441.8,2138.1 1417.3,2139.7 1392.7,2141.1 1368.1,2142.2 1343.5,2143.2 1318.9,2144.1 1294.3,2144.8 1269.8,2145.4 1245.2,2146.1 1220.6,2146.7 1196,2147.3 1171.4,2148 1146.8,2148.8 1122.3,2149.7 1097.7,2150.7 1073.1,2151.8 1048.5,2153 1023.9,2154.2 999.4,2155.4 974.8,2156.5 950.2,2157.5 925.6,2158.4 901,2159.2 876.4,2159.8 851.9,2160.3 827.3,2160.7 802.7,2161 778.1,2161.3 753.5,2161.4 729,2161.5 704.4,2161.6 679.8,2161.5 655.2,2161.4 630.6,2161.3 606,2161.2 581.5,2160.9 556.9,2160.7 532.3,2160.4" fill="#1B9E77" fill-opacity="0.3"/>
<polygon points="532.3,2155.4 556.9,2155.8 581.5,2156.2 606,2156.5 630.6,2156.7 655.2,2156.9 679.8,2157 704.4,2157 729,2157 753.5,2156.9 778.1,2156.7 802.7,2156.4 827.3,2156 851.9,2155.5 876.4,2154.9 901,2154.2 925.6,2153.3 950.2,2152.3 974.8,2151.2 999.4,2150 1023.9,2148.7 1048.5,2147.4 1073.1,2146.2 1097.7,2145 1122.3,2144 1146.8,2143.1 1171.4,2142.3 1196,2141.6 1220.6,2141 1245.2,2140.4 1269.8,2139.8 1294.3,2139 1318.9,2138.2 1343.5,2137.3 1368.1,2136.1 1392.7,2134.7 1417.3,2133.1 1441.8,2131.1 1466.4,2128.9 1491,2126.4 1515.6,2123.4 1540.2,2120 1564.7,2116.1 1589.3,2111.7 1613.9,2106.5 1638.5,2100.6 1663.1,2093.8 1687.7,2085.9 1712.2,2076.6 1736.8,2065.6 1761.4,2052.6 1786,2037 1810.6,2018.5 1835.1,1996.7 1859.7,1971.2 1884.3,1941.6 1908.9,1907.6 1933.5,1868.7 1958.1,1825 1982.6,1777.3 2007.2,1727.3 2031.8,1676.9 2056.4,1627.9 2081,1581.7 2105.5,1539.3 2130.1,1501 2154.7,1468.2 2179.3,1442.3 2203.9,1424.7 2228.5,1416.3 2253,1416.7 2277.6,1424.8 2302.2,1439.6 2326.8,1460 2351.4,1485.3 2375.9,1514.5 2400.5,1546.8 2425.1,1581.2 2449.7,1616.9 2474.3,1653.4 2498.9,1691.1 2523.4,1730 2548,1769.5 2572.6,1808.5 2597.2,1845.9 2621.8,1881.3 2646.4,1914.2 2670.9,1944.5 2695.5,1972 2720.1,1996.9 2744.7,2019.3 2769.3,2039.6 2793.8,2057.7 2818.4,2073.9 2843,2088.1 2867.6,2100.7 2892.2,2111.9 2916.8,2121.7 2941.3,2130.5 2965.9,2138.3 2990.5,2145.2 3015.1,2151.2 3015.1,2155.8 2990.5,2150.3 2965.9,2143.8 2941.3,2136.4 2916.8,2128 2892.2,2118.5 2867.6,2107.9 2843,2095.9 2818.4,2082.3 2793.8,2067 2769.3,2049.8 2744.7,2030.6 2720.1,2009.3 2695.5,1985.6 2670.9,1959.4 2646.4,1930.6 2621.8,1899.3 2597.2,1865.8 2572.6,1830.5 2548,1793.9 2523.4,1757 2498.9,1720.7 2474.3,1685.7 2449.7,1651.9 2425.1,1619 2400.5,1587.3 2375.9,1557.6 2351.4,1530.8 2326.8,1507.7 2302.2,1489.2 2277.6,1476 2253,1468.9 2228.5,1469.1 2203.9,1477.6 2179.3,1494.7 2154.7,1519.8 2130.1,1551.4 2105.5,1587.6 2081,1626.7 2056.4,1668.1 2031.8,1711.9 2007.2,1757.7 1982.6,1804.1 1958.1,1849.1 1933.5,1890.7 1908.9,1927.8 1884.3,1960.1 1859.7,1988 1835.1,2011.9 1810.6,2032.3 1786,2049.4 1761.4,2063.9 1736.8,2075.9 1712.2,2085.9 1687.7,2094.4 1663.1,2101.7 1638.5,2107.9 1613.9,2113.2 1589.3,2117.8 1564.7,2121.8 1540.2,2125.4 1515.6,2128.4 1491,2131.1 1466.4,2133.4 1441.8,2135.4 1417.3,2137.1 1392.7,2138.6 1368.1,2139.9 1343.5,2140.9 1318.9,2141.8 1294.3,2142.6 1269.8,2143.3 1245.2,2143.9 1220.6,2144.6 1196,2145.2 1171.4,2145.9 1146.8,2146.7 1122.3,2147.6 1097.7,2148.6 1073.1,2149.8 1048.5,2151 1023.9,2152.3 999.4,2153.5 974.8,2154.6 950.2,2155.7 925.6,2156.6 901,2157.4 876.4,2158.1 851.9,2158.6 827.3,2159.1 802.7,2159.4 778.1,2159.6 753.5,2159.8 729,2159.9 704.4,2159.9 679.8,2159.9 655.2,2159.8 630.6,2159.6 606,2159.4 581.5,2159.1 556.9,2158.8 532.3,2158.5" fill="#1B9E77" fill-opacity="0.3"/>
<polygon points="3039.7,2140.1 3064.2,2144.1 3088.8,2147.5 3113.4,2150.6 3138,2153.3 3162.6,2155.7 3187.2,2157.8 3211.7,2159.7 3236.3,2161.3 3260.9,2162.8 3285.5,2164.2 3285.5,2181.9 3260.9,2181.6 3236.3,2181.3 3211.7,2180.8 3187.2,2180.3 3162.6,2179.5 3138,2178.6 3113.4,2177.5 3088.8,2176.3 3064.2,2174.8 3039.7,2173.3" fill="#D95F02" fill-opacity="0.2"/><polyline points="3039.7,2140.1 3064.2,2144.1 3088.8,2147.5 3113.4,2150.6 3138,2153.3 3162.6,2155.7 3187.2,2157.8 3211.7,2159.7 3236.3,2161.3 3260.9,2162.8 3285.5,2164.2" fill="none" stroke="#D95F02" stroke-width="0.7" stroke-linejoin="round"/><polyline points="3039.7,2173.3 3064.2,2174.8 3088.8,2176.3 3113.4,2177.5 3138,2178.6 3162.6,2179.5 3187.2,2180.3 3211.7,2180.8 3236.3,2181.3 3260.9,2181.6 3285.5,2181.9" fill="none" stroke="#D95F02" stroke-width="0.7" stroke-linejoin="round"/>
<polygon points="3039.7,2152.9 3064.2,2156.1 3088.8,2158.9 3113.4,2161.5 3138,2163.8 3162.6,2165.8 3187.2,2167.7 3211.7,2169.3 3236.3,2170.8 3260.9,2172.1 3285.5,2173.3 3285.5,2180.2 3260.9,2179.7 3236.3,2178.9 3211.7,2178.1 3187.2,2177 3162.6,2175.8 3138,2174.3 3113.4,2172.7 3088.8,2170.8 3064.2,2168.7 3039.7,2166.3" fill="#D95F02" fill-opacity="0.3"/>
<polygon points="3039.7,2158.4 3064.2,2161.2 3088.8,2163.6 3113.4,2165.8 3138,2167.8 3162.6,2169.6 3187.2,2171.1 3211.7,2172.5 3236.3,2173.7 3260.9,2174.8 3285.5,2175.8 3285.5,2178.8 3260.9,2178 3236.3,2177 3211.7,2176 3187.2,2174.7 3162.6,2173.3 3138,2171.7 3113.4,2169.8 3088.8,2167.7 3064.2,2165.4 3039.7,2162.9" fill="#D95F02" fill-opacity="0.3"/>
</g>
<path d="M377.5 1181.6 V2230.3 H3784.6" fill="none" stroke="#000" stroke-width="4.74" stroke-linecap="square" stroke-linejoin="miter"/>
<line x1="362" y1="2182.4" x2="377.5" y2="2182.4" stroke="#000" stroke-width="4.74"/>
<text x="348.1" y="2202" text-anchor="end" font-size="53.33">0</text>
<line x1="362" y1="1922.8" x2="377.5" y2="1922.8" stroke="#000" stroke-width="4.74"/>
<text x="348.1" y="1942.4" text-anchor="end" font-size="53.33">1,000</text>
<line x1="362" y1="1663.2" x2="377.5" y2="1663.2" stroke="#000" stroke-width="4.74"/>
<text x="348.1" y="1682.8" text-anchor="end" font-size="53.33">2,000</text>
<line x1="362" y1="1403.6" x2="377.5" y2="1403.6" stroke="#000" stroke-width="4.74"/>
<text x="348.1" y="1423.2" text-anchor="end" font-size="53.33">3,000</text>
<g clip-path="url(#clipC)">
<line x1="3285.5" y1="3357.2" x2="3285.5" y2="2305.6" stroke="#000" stroke-width="4.74" stroke-dasharray="18.97 18.97"/>
<polygon points="532.3,2658.6 556.9,2669.3 581.5,2677.8 606,2684.1 630.6,2688.5 655.2,2691.1 679.8,2692 704.4,2691.4 729,2689.5 753.5,2686.4 778.1,2682.2 802.7,2677.2 827.3,2671.4 851.9,2665.1 876.4,2658.3 901,2651.3 925.6,2644.2 950.2,2637.4 974.8,2630.9 999.4,2625.2 1023.9,2620.3 1048.5,2616.6 1073.1,2614.1 1097.7,2613.3 1122.3,2614.3 1146.8,2617.2 1171.4,2621.6 1196,2626.8 1220.6,2632.2 1245.2,2637.4 1269.8,2641.9 1294.3,2645.4 1318.9,2647.6 1343.5,2648.3 1368.1,2647.5 1392.7,2645.3 1417.3,2641.9 1441.8,2637.4 1466.4,2631.9 1491,2625.5 1515.6,2618.1 1540.2,2609.4 1564.7,2599.5 1589.3,2587.9 1613.9,2574.7 1638.5,2559.6 1663.1,2542.5 1687.7,2523.4 1712.2,2502.6 1736.8,2481 1761.4,2459.1 1786,2437.6 1810.6,2417.1 1835.1,2398.3 1859.7,2381.9 1884.3,2368.7 1908.9,2359.5 1933.5,2355.1 1958.1,2356.1 1982.6,2363.2 2007.2,2375.9 2031.8,2393.3 2056.4,2414.7 2081,2439.4 2105.5,2466.7 2130.1,2495.6 2154.7,2525.3 2179.3,2555 2203.9,2583.9 2228.5,2611.3 2253,2637 2277.6,2661.2 2302.2,2683.9 2326.8,2705.2 2351.4,2725.1 2375.9,2743.6 2400.5,2760.8 2425.1,2776.8 2449.7,2791.5 2474.3,2805.2 2498.9,2817.8 2523.4,2829.7 2548,2840.8 2572.6,2851.2 2597.2,2861.1 2621.8,2870.3 2646.4,2879.1 2670.9,2887.5 2695.5,2895.5 2720.1,2903.3 2744.7,2910.8 2769.3,2918.1 2793.8,2925.1 2818.4,2931.5 2843,2937.3 2867.6,2942.2 2892.2,2946.1 2916.8,2948.7 2941.3,2950 2965.9,2949.7 2990.5,2947.6 3015.1,2943.6 3015.1,3138.9 2990.5,3129.1 2965.9,3119 2941.3,3108.7 2916.8,3098.3 2892.2,3087.8 2867.6,3077.2 2843,3066.6 2818.4,3055.9 2793.8,3045.3 2769.3,3034.7 2744.7,3024.2 2720.1,3013.9 2695.5,3003.6 2670.9,2993.6 2646.4,2983.8 2621.8,2974.2 2597.2,2964.7 2572.6,2955.1 2548,2945.4 2523.4,2935.2 2498.9,2924.6 2474.3,2913.3 2449.7,2901.2 2425.1,2888.1 2400.5,2873.9 2375.9,2858.5 2351.4,2841.8 2326.8,2823.7 2302.2,2804.2 2277.6,2783.4 2253,2761.4 2228.5,2738.3 2203.9,2714.4 2179.3,2689.9 2154.7,2665 2130.1,2640.6 2105.5,2617.4 2081,2596.1 2056.4,2577.6 2031.8,2561.9 2007.2,2549.2 1982.6,2539.5 1958.1,2533 1933.5,2529.8 1908.9,2529.8 1884.3,2533.3 1859.7,2540.3 1835.1,2550.8 1810.6,2564.3 1786,2580.2 1761.4,2598 1736.8,2617 1712.2,2636.6 1687.7,2656.3 1663.1,2675.5 1638.5,2693.5 1613.9,2709.8 1589.3,2723.9 1564.7,2735.9 1540.2,2745.8 1515.6,2753.9 1491,2760.3 1466.4,2765.1 1441.8,2768.5 1417.3,2770.6 1392.7,2771.5 1368.1,2771.5 1343.5,2770.7 1318.9,2769.2 1294.3,2767.1 1269.8,2764.7 1245.2,2762 1220.6,2759.2 1196,2756.5 1171.4,2754 1146.8,2751.8 1122.3,2750.1 1097.7,2749.1 1073.1,2748.8 1048.5,2749.5 1023.9,2751 999.4,2753.4 974.8,2756.6 950.2,2760.6 925.6,2765.3 901,2770.7 876.4,2776.8 851.9,2783.4 827.3,2790.6 802.7,2798.1 778.1,2806 753.5,2814 729,2822.1 704.4,2830.2 679.8,2838.2 655.2,2846.1 630.6,2853.9 606,2862 581.5,2870.7 556.9,2880.1 532.3,2890.5" fill="#1B9E77" fill-opacity="0.2"/><polyline points="532.3,2658.6 556.9,2669.3 581.5,2677.8 606,2684.1 630.6,2688.5 655.2,2691.1 679.8,2692 704.4,2691.4 729,2689.5 753.5,2686.4 778.1,2682.2 802.7,2677.2 827.3,2671.4 851.9,2665.1 876.4,2658.3 901,2651.3 925.6,2644.2 950.2,2637.4 974.8,2630.9 999.4,2625.2 1023.9,2620.3 1048.5,2616.6 1073.1,2614.1 1097.7,2613.3 1122.3,2614.3 1146.8,2617.2 1171.4,2621.6 1196,2626.8 1220.6,2632.2 1245.2,2637.4 1269.8,2641.9 1294.3,2645.4 1318.9,2647.6 1343.5,2648.3 1368.1,2647.5 1392.7,2645.3 1417.3,2641.9 1441.8,2637.4 1466.4,2631.9 1491,2625.5 1515.6,2618.1 1540.2,2609.4 1564.7,2599.5 1589.3,2587.9 1613.9,2574.7 1638.5,2559.6 1663.1,2542.5 1687.7,2523.4 1712.2,2502.6 1736.8,2481 1761.4,2459.1 1786,2437.6 1810.6,2417.1 1835.1,2398.3 1859.7,2381.9 1884.3,2368.7 1908.9,2359.5 1933.5,2355.1 1958.1,2356.1 1982.6,2363.2 2007.2,2375.9 2031.8,2393.3 2056.4,2414.7 2081,2439.4 2105.5,2466.7 2130.1,2495.6 2154.7,2525.3 2179.3,2555 2203.9,2583.9 2228.5,2611.3 2253,2637 2277.6,2661.2 2302.2,2683.9 2326.8,2705.2 2351.4,2725.1 2375.9,2743.6 2400.5,2760.8 2425.1,2776.8 2449.7,2791.5 2474.3,2805.2 2498.9,2817.8 2523.4,2829.7 2548,2840.8 2572.6,2851.2 2597.2,2861.1 2621.8,2870.3 2646.4,2879.1 2670.9,2887.5 2695.5,2895.5 2720.1,2903.3 2744.7,2910.8 2769.3,2918.1 2793.8,2925.1 2818.4,2931.5 2843,2937.3 2867.6,2942.2 2892.2,2946.1 2916.8,2948.7 2941.3,2950 2965.9,2949.7 2990.5,2947.6 3015.1,2943.6" fill="none" stroke="#1B9E77" stroke-width="0.7" stroke-linejoin="round"/><polyline points="532.3,2890.5 556.9,2880.1 581.5,2870.7 606,2862 630.6,2853.9 655.2,2846.1 679.8,2838.2 704.4,2830.2 729,2822.1 753.5,2814 778.1,2806 802.7,2798.1 827.3,2790.6 851.9,2783.4 876.4,2776.8 901,2770.7 925.6,2765.3 950.2,2760.6 974.8,2756.6 999.4,2753.4 1023.9,2751 1048.5,2749.5 1073.1,2748.8 1097.7,2749.1 1122.3,2750.1 1146.8,2751.8 1171.4,2754 1196,2756.5 1220.6,2759.2 1245.2,2762 1269.8,2764.7 1294.3,2767.1 1318.9,2769.2 1343.5,2770.7 1368.1,2771.5 1392.7,2771.5 1417.3,2770.6 1441.8,2768.5 1466.4,2765.1 1491,2760.3 1515.6,2753.9 1540.2,2745.8 1564.7,2735.9 1589.3,2723.9 1613.9,2709.8 1638.5,2693.5 1663.1,2675.5 1687.7,2656.3 1712.2,2636.6 1736.8,2617 1761.4,2598 1786,2580.2 1810.6,2564.3 1835.1,2550.8 1859.7,2540.3 1884.3,2533.3 1908.9,2529.8 1933.5,2529.8 1958.1,2533 1982.6,2539.5 2007.2,2549.2 2031.8,2561.9 2056.4,2577.6 2081,2596.1 2105.5,2617.4 2130.1,2640.6 2154.7,2665 2179.3,2689.9 2203.9,2714.4 2228.5,2738.3 2253,2761.4 2277.6,2783.4 2302.2,2804.2 2326.8,2823.7 2351.4,2841.8 2375.9,2858.5 2400.5,2873.9 2425.1,2888.1 2449.7,2901.2 2474.3,2913.3 2498.9,2924.6 2523.4,2935.2 2548,2945.4 2572.6,2955.1 2597.2,2964.7 2621.8,2974.2 2646.4,2983.8 2670.9,2993.6 2695.5,3003.6 2720.1,3013.9 2744.7,3024.2 2769.3,3034.7 2793.8,3045.3 2818.4,3055.9 2843,3066.6 2867.6,3077.2 2892.2,3087.8 2916.8,3098.3 2941.3,3108.7 2965.9,3119 2990.5,3129.1 3015.1,3138.9" fill="none" stroke="#1B9E77" stroke-width="0.7" stroke-linejoin="round"/>
<polygon points="532.3,2736 556.9,2739.6 581.5,2741.7 606,2742.6 630.6,2742.2 655.2,2740.7 679.8,2738.2 704.4,2734.9 729,2730.9 753.5,2726.2 778.1,2721 802.7,2715.3 827.3,2709.4 851.9,2703.4 876.4,2697.2 901,2691.1 925.6,2685.2 950.2,2679.7 974.8,2674.7 999.4,2670.4 1023.9,2666.9 1048.5,2664.4 1073.1,2663 1097.7,2662.9 1122.3,2663.8 1146.8,2665.6 1171.4,2667.9 1196,2670.7 1220.6,2673.6 1245.2,2676.4 1269.8,2678.9 1294.3,2680.8 1318.9,2682.2 1343.5,2682.8 1368.1,2682.6 1392.7,2681.5 1417.3,2679.4 1441.8,2676.2 1466.4,2671.9 1491,2666.3 1515.6,2659.4 1540.2,2651 1564.7,2641.1 1589.3,2629.6 1613.9,2616.4 1638.5,2601.4 1663.1,2584.6 1687.7,2565.9 1712.2,2546 1736.8,2525.4 1761.4,2505 1786,2485.4 1810.6,2467.3 1835.1,2451.3 1859.7,2438.1 1884.3,2428.2 1908.9,2422.1 1933.5,2420.3 1958.1,2423.1 1982.6,2430.6 2007.2,2442.3 2031.8,2458.1 2056.4,2477.5 2081,2499.8 2105.5,2524.1 2130.1,2549.4 2154.7,2575 2179.3,2600.5 2203.9,2625.7 2228.5,2650.4 2253,2674.4 2277.6,2697.6 2302.2,2719.6 2326.8,2740.4 2351.4,2759.7 2375.9,2777.5 2400.5,2794.1 2425.1,2809.5 2449.7,2823.7 2474.3,2836.9 2498.9,2849.2 2523.4,2860.7 2548,2871.5 2572.6,2881.6 2597.2,2891.2 2621.8,2900.4 2646.4,2909.2 2670.9,2917.8 2695.5,2926.3 2720.1,2934.7 2744.7,2943 2769.3,2951.1 2793.8,2958.9 2818.4,2966.2 2843,2973.2 2867.6,2979.6 2892.2,2985.3 2916.8,2990.3 2941.3,2994.5 2965.9,2997.8 2990.5,3000.1 3015.1,3001.3 3015.1,3079.7 2990.5,3073.5 2965.9,3066.6 2941.3,3059.2 2916.8,3051.3 2892.2,3042.9 2867.6,3034.2 2843,3025.2 2818.4,3016 2793.8,3006.6 2769.3,2997.1 2744.7,2987.6 2720.1,2978.1 2695.5,2968.7 2670.9,2959.4 2646.4,2950.2 2621.8,2940.9 2597.2,2931.4 2572.6,2921.7 2548,2911.6 2523.4,2901 2498.9,2889.8 2474.3,2877.9 2449.7,2865.2 2425.1,2851.6 2400.5,2836.9 2375.9,2821.1 2351.4,2804 2326.8,2785.6 2302.2,2765.7 2277.6,2744.6 2253,2722.6 2228.5,2700 2203.9,2676.8 2179.3,2653.6 2154.7,2630.4 2130.1,2607.6 2105.5,2585.4 2081,2564.4 2056.4,2544.9 2031.8,2527.6 2007.2,2512.9 1982.6,2501.2 1958.1,2493.1 1933.5,2489.1 1908.9,2489.5 1884.3,2493.9 1859.7,2501.7 1835.1,2512.3 1810.6,2525.3 1786,2540.4 1761.4,2557.5 1736.8,2576.4 1712.2,2596.2 1687.7,2615.9 1663.1,2634.6 1638.5,2651.4 1613.9,2666.4 1589.3,2679.5 1564.7,2690.9 1540.2,2700.6 1515.6,2708.8 1491,2715.6 1466.4,2721 1441.8,2725.2 1417.3,2728.3 1392.7,2730.3 1368.1,2731.4 1343.5,2731.6 1318.9,2731.1 1294.3,2729.9 1269.8,2728.2 1245.2,2726 1220.6,2723.6 1196,2721.1 1171.4,2718.8 1146.8,2716.8 1122.3,2715.3 1097.7,2714.6 1073.1,2714.9 1048.5,2716.2 1023.9,2718.6 999.4,2721.9 974.8,2725.9 950.2,2730.6 925.6,2735.9 901,2741.5 876.4,2747.4 851.9,2753.5 827.3,2759.6 802.7,2765.9 778.1,2772.2 753.5,2778.4 729,2784.6 704.4,2790.7 679.8,2796.7 655.2,2802.4 630.6,2808.1 606,2813.5 581.5,2818.9 556.9,2824.3 532.3,2829.6" fill="#1B9E77" fill-opacity="0.3"/>
<polygon points="532.3,2764 556.9,2766.1 581.5,2766.9 606,2766.4 630.6,2764.7 655.2,2762.1 679.8,2758.5 704.4,2754.2 729,2749.3 753.5,2743.8 778.1,2738 802.7,2732 827.3,2725.8 851.9,2719.6 876.4,2713.6 901,2707.8 925.6,2702.4 950.2,2697.5 974.8,2693.1 999.4,2689.4 1023.9,2686.4 1048.5,2684.1 1073.1,2682.5 1097.7,2681.8 1122.3,2681.9 1146.8,2683 1171.4,2684.7 1196,2687 1220.6,2689.5 1245.2,2692.1 1269.8,2694.5 1294.3,2696.5 1318.9,2698 1343.5,2698.6 1368.1,2698.4 1392.7,2697.3 1417.3,2695.1 1441.8,2691.8 1466.4,2687.4 1491,2681.8 1515.6,2674.9 1540.2,2666.6 1564.7,2656.7 1589.3,2644.9 1613.9,2631 1638.5,2614.8 1663.1,2596.9 1687.7,2578 1712.2,2558.7 1736.8,2539.6 1761.4,2521.2 1786,2503.8 1810.6,2487.6 1835.1,2473.1 1859.7,2460.6 1884.3,2450.7 1908.9,2444.2 1933.5,2442.4 1958.1,2445.8 1982.6,2454.1 2007.2,2466.7 2031.8,2482.9 2056.4,2502.1 2081,2523.5 2105.5,2546.5 2130.1,2570.5 2154.7,2594.9 2179.3,2619.3 2203.9,2643.6 2228.5,2667.5 2253,2690.9 2277.6,2713.4 2302.2,2734.9 2326.8,2755.1 2351.4,2773.9 2375.9,2791.4 2400.5,2807.5 2425.1,2822.5 2449.7,2836.4 2474.3,2849.4 2498.9,2861.4 2523.4,2872.7 2548,2883.4 2572.6,2893.4 2597.2,2903 2621.8,2912.2 2646.4,2921.2 2670.9,2930 2695.5,2938.7 2720.1,2947.4 2744.7,2956.1 2769.3,2964.7 2793.8,2973.1 2818.4,2981.1 2843,2988.8 2867.6,2996.1 2892.2,3002.8 2916.8,3008.8 2941.3,3014.2 2965.9,3018.8 2990.5,3022.5 3015.1,3025.3 3015.1,3055 2990.5,3049.8 2965.9,3044 2941.3,3037.7 2916.8,3030.9 2892.2,3023.6 2867.6,3016 2843,3008.1 2818.4,2999.8 2793.8,2991.3 2769.3,2982.6 2744.7,2973.8 2720.1,2964.8 2695.5,2955.7 2670.9,2946.7 2646.4,2937.5 2621.8,2928.1 2597.2,2918.5 2572.6,2908.5 2548,2898.1 2523.4,2887.2 2498.9,2875.6 2474.3,2863.4 2449.7,2850.5 2425.1,2836.7 2400.5,2822 2375.9,2806.3 2351.4,2789.5 2326.8,2771.5 2302.2,2752.3 2277.6,2731.9 2253,2710.4 2228.5,2687.8 2203.9,2664.2 2179.3,2640 2154.7,2615.6 2130.1,2591.5 2105.5,2568 2081,2545.8 2056.4,2525.5 2031.8,2507.7 2007.2,2493.2 1982.6,2482 1958.1,2474.6 1933.5,2471.2 1908.9,2471.9 1884.3,2476.3 1859.7,2484.1 1835.1,2494.8 1810.6,2507.9 1786,2523 1761.4,2539.7 1736.8,2557.5 1712.2,2575.9 1687.7,2594.6 1663.1,2612.9 1638.5,2630.5 1613.9,2646.8 1589.3,2661.4 1564.7,2674.1 1540.2,2684.9 1515.6,2693.8 1491,2700.9 1466.4,2706.1 1441.8,2709.9 1417.3,2712.3 1392.7,2713.7 1368.1,2714.1 1343.5,2713.8 1318.9,2713 1294.3,2711.9 1269.8,2710.6 1245.2,2709.2 1220.6,2707.8 1196,2706.4 1171.4,2705.1 1146.8,2704 1122.3,2703.3 1097.7,2702.9 1073.1,2703 1048.5,2703.6 1023.9,2704.8 999.4,2706.8 974.8,2709.5 950.2,2713.2 925.6,2717.8 901,2723.4 876.4,2729.8 851.9,2736.7 827.3,2744 802.7,2751.3 778.1,2758.5 753.5,2765.2 729,2771.2 704.4,2776.5 679.8,2781 655.2,2784.9 630.6,2788.5 606,2791.8 581.5,2795.2 556.9,2798.7 532.3,2802.6" fill="#1B9E77" fill-opacity="0.3"/>
<polygon points="3039.7,2943.7 3064.2,2936.5 3088.8,2929.9 3113.4,2923.6 3138,2917.3 3162.6,2910.8 3187.2,2903.8 3211.7,2896 3236.3,2887.1 3260.9,2876.9 3285.5,2865.1 3285.5,3209.3 3260.9,3203.6 3236.3,3197.9 3211.7,3192.2 3187.2,3186.4 3162.6,3180.5 3138,3174.4 3113.4,3168 3088.8,3161.4 3064.2,3154.4 3039.7,3147" fill="#D95F02" fill-opacity="0.2"/><polyline points="3039.7,2943.7 3064.2,2936.5 3088.8,2929.9 3113.4,2923.6 3138,2917.3 3162.6,2910.8 3187.2,2903.8 3211.7,2896 3236.3,2887.1 3260.9,2876.9 3285.5,2865.1" fill="none" stroke="#D95F02" stroke-width="0.7" stroke-linejoin="round"/><polyline points="3039.7,3147 3064.2,3154.4 3088.8,3161.4 3113.4,3168 3138,3174.4 3162.6,3180.5 3187.2,3186.4 3211.7,3192.2 3236.3,3197.9 3260.9,3203.6 3285.5,3209.3" fill="none" stroke="#D95F02" stroke-width="0.7" stroke-linejoin="round"/>
<polygon points="3039.7,3004.6 3064.2,3005.4 3088.8,3005.9 3113.4,3006.1 3138,3006 3162.6,3005.7 3187.2,3005.1 3211.7,3004.3 3236.3,3003.4 3260.9,3002.3 3285.5,3001.1 3285.5,3131.7 3260.9,3128.5 3236.3,3124.9 3211.7,3121.1 3187.2,3117 3162.6,3112.7 3138,3108.1 3113.4,3103.2 3088.8,3098.2 3064.2,3093 3039.7,3087.6" fill="#D95F02" fill-opacity="0.3"/>
<polygon points="3039.7,3030.5 3064.2,3033.7 3088.8,3036.4 3113.4,3038.8 3138,3040.7 3162.6,3042.3 3187.2,3043.5 3211.7,3044.6 3236.3,3045.3 3260.9,3045.9 3285.5,3046.4 3285.5,3093.4 3260.9,3091.5 3236.3,3089.4 3211.7,3086.8 3187.2,3084 3162.6,3080.9 3138,3077.4 3113.4,3073.7 3088.8,3069.6 3064.2,3065.2 3039.7,3060.5" fill="#D95F02" fill-opacity="0.3"/>
<line x1="377" y1="2751.7" x2="3787" y2="2751.7" stroke="#000" stroke-width="4.74" stroke-dasharray="18.97 18.97"/>
</g>
<path d="M377.5 2308 V3357.2 H3784.6" fill="none" stroke="#000" stroke-width="4.74" stroke-linecap="square" stroke-linejoin="miter"/>
<line x1="362" y1="3309.3" x2="377.5" y2="3309.3" stroke="#000" stroke-width="4.74"/>
<text x="348.1" y="3328.9" text-anchor="end" font-size="53.33">0.00</text>
<line x1="362" y1="3030.4" x2="377.5" y2="3030.4" stroke="#000" stroke-width="4.74"/>
<text x="348.1" y="3050" text-anchor="end" font-size="53.33">0.50</text>
<line x1="362" y1="2751.4" x2="377.5" y2="2751.4" stroke="#000" stroke-width="4.74"/>
<text x="348.1" y="2771" text-anchor="end" font-size="53.33">1.00</text>
<line x1="362" y1="2472.5" x2="377.5" y2="2472.5" stroke="#000" stroke-width="4.74"/>
<text x="348.1" y="2492.1" text-anchor="end" font-size="53.33">1.50</text>
<line x1="532.3" y1="3357.2" x2="532.3" y2="3375.1" stroke="#000" stroke-width="4.74"/>
<text transform="translate(570.4,3389.2) rotate(-90)" text-anchor="end" font-size="53.33">Dec 27</text>
<line x1="704.4" y1="3357.2" x2="704.4" y2="3375.1" stroke="#000" stroke-width="4.74"/>
<text transform="translate(742.5,3399.9) rotate(-90)" text-anchor="end" font-size="53.33">Jan 03</text>
<line x1="876.4" y1="3357.2" x2="876.4" y2="3375.1" stroke="#000" stroke-width="4.74"/>
<text transform="translate(914.5,3399.9) rotate(-90)" text-anchor="end" font-size="53.33">Jan 10</text>
<line x1="1048.5" y1="3357.2" x2="1048.5" y2="3375.1" stroke="#000" stroke-width="4.74"/>
<text transform="translate(1086.6,3399.9) rotate(-90)" text-anchor="end" font-size="53.33">Jan 17</text>
<line x1="1220.6" y1="3357.2" x2="1220.6" y2="3375.1" stroke="#000" stroke-width="4.74"/>
<text transform="translate(1258.7,3399.9) rotate(-90)" text-anchor="end" font-size="53.33">Jan 24</text>
<line x1="1392.7" y1="3357.2" x2="1392.7" y2="3375.1" stroke="#000" stroke-width="4.74"/>
<text transform="translate(1430.8,3399.9) rotate(-90)" text-anchor="end" font-size="53.33">Jan 31</text>
<line x1="1564.7" y1="3357.2" x2="1564.7" y2="3375.1" stroke="#000" stroke-width="4.74"/>
<text transform="translate(1602.8,3394.3) rotate(-90)" text-anchor="end" font-size="53.33">Feb 07</text>
<line x1="1736.8" y1="3357.2" x2="1736.8" y2="3375.1" stroke="#000" stroke-width="4.74"/>
<text transform="translate(1774.9,3394.3) rotate(-90)" text-anchor="end" font-size="53.33">Feb 14</text>
<line x1="1908.9" y1="3357.2" x2="1908.9" y2="3375.1" stroke="#000" stroke-width="4.74"/>
<text transform="translate(1947,3394.3) rotate(-90)" text-anchor="end" font-size="53.33">Feb 21</text>
<line x1="2081" y1="3357.2" x2="2081" y2="3375.1" stroke="#000" stroke-width="4.74"/>
<text transform="translate(2119.1,3394.3) rotate(-90)" text-anchor="end" font-size="53.33">Feb 28</text>
<line x1="2253" y1="3357.2" x2="2253" y2="3375.1" stroke="#000" stroke-width="4.74"/>
<text transform="translate(2291.1,3391) rotate(-90)" text-anchor="end" font-size="53.33">Mar 07</text>
<line x1="2425.1" y1="3357.2" x2="2425.1" y2="3375.1" stroke="#000" stroke-width="4.74"/>
<text transform="translate(2463.2,3391) rotate(-90)" text-anchor="end" font-size="53.33">Mar 14</text>
<line x1="2597.2" y1="3357.2" x2="2597.2" y2="3375.1" stroke="#000" stroke-width="4.74"/>
<text transform="translate(2635.3,3391) rotate(-90)" text-anchor="end" font-size="53.33">Mar 21</text>
<line x1="2769.3" y1="3357.2" x2="2769.3" y2="3375.1" stroke="#000" stroke-width="4.74"/>
<text transform="translate(2807.4,3391) rotate(-90)" text-anchor="end" font-size="53.33">Mar 28</text>
<line x1="2941.3" y1="3357.2" x2="2941.3" y2="3375.1" stroke="#000" stroke-width="4.74"/>
<text transform="translate(2979.4,3395.7) rotate(-90)" text-anchor="end" font-size="53.33">Apr 04</text>
<line x1="3113.4" y1="3357.2" x2="3113.4" y2="3375.1" stroke="#000" stroke-width="4.74"/>
<text transform="translate(3151.5,3395.7) rotate(-90)" text-anchor="end" font-size="53.33">Apr 11</text>
<line x1="3285.5" y1="3357.2" x2="3285.5" y2="3375.1" stroke="#000" stroke-width="4.74"/>
<text transform="translate(3323.6,3395.7) rotate(-90)" text-anchor="end" font-size="53.33">Apr 18</text>
<line x1="3457.6" y1="3357.2" x2="3457.6" y2="3375.1" stroke="#000" stroke-width="4.74"/>
<text transform="translate(3495.7,3395.7) rotate(-90)" text-anchor="end" font-size="53.33">Apr 25</text>
<line x1="3629.6" y1="3357.2" x2="3629.6" y2="3375.1" stroke="#000" stroke-width="4.74"/>
<text transform="translate(3667.7,3385.8) rotate(-90)" text-anchor="end" font-size="53.33">May 02</text>
<text x="2081.3" y="3641" text-anchor="middle" font-size="62.22">Date</text>
<text transform="translate(100.9,590.5) rotate(-90)" text-anchor="middle" font-size="62.22">Cases by</text>
<text transform="translate(169.3,570.6) rotate(-90)" text-anchor="middle" font-size="62.22">date of report</text>
<text transform="translate(100.9,1716) rotate(-90)" text-anchor="middle" font-size="62.22">Cases by</text>
<text transform="translate(169.3,1696.2) rotate(-90)" text-anchor="middle" font-size="62.22">date of infection</text>
<text transform="translate(100.9,2841.1) rotate(-90)" text-anchor="middle" font-size="62.22">Effective</text>
<text transform="translate(169.3,2823.2) rotate(-90)" text-anchor="middle" font-size="62.22">reproduction no.</text>
<text x="54.5" y="86.8" font-size="62.22" font-weight="bold">A</text>
<text x="54.5" y="1213.1" font-size="62.22" font-weight="bold">B</text>
<text x="54.5" y="2339.4" font-size="62.22" font-weight="bold">C</text>
<text x="377.6" y="3773" font-size="62.22">Type</text>
<rect x="554" y="3718.95" width="62.9" height="62.9" fill="#1B9E77" fill-opacity="0.2"/><rect x="554" y="3718.95" width="62.9" height="62.9" fill="#1B9E77" fill-opacity="0.3"/><rect x="554" y="3718.95" width="62.9" height="62.9" fill="#1B9E77" fill-opacity="0.3"/><rect x="554" y="3718.95" width="62.9" height="62.9" fill="none" stroke="#1B9E77" stroke-width="5.5"/>
<text x="650.9" y="3769.2" font-size="53.33">Estimate</text>
<rect x="920" y="3718.95" width="62.9" height="62.9" fill="#D95F02" fill-opacity="0.2"/><rect x="920" y="3718.95" width="62.9" height="62.9" fill="#D95F02" fill-opacity="0.3"/><rect x="920" y="3718.95" width="62.9" height="62.9" fill="#D95F02" fill-opacity="0.3"/><rect x="920" y="3718.95" width="62.9" height="62.9" fill="none" stroke="#D95F02" stroke-width="5.5"/>
<text x="1015.9" y="3769.2" font-size="53.33">Estimate based on partial data</text>
</svg>
</body></html>
